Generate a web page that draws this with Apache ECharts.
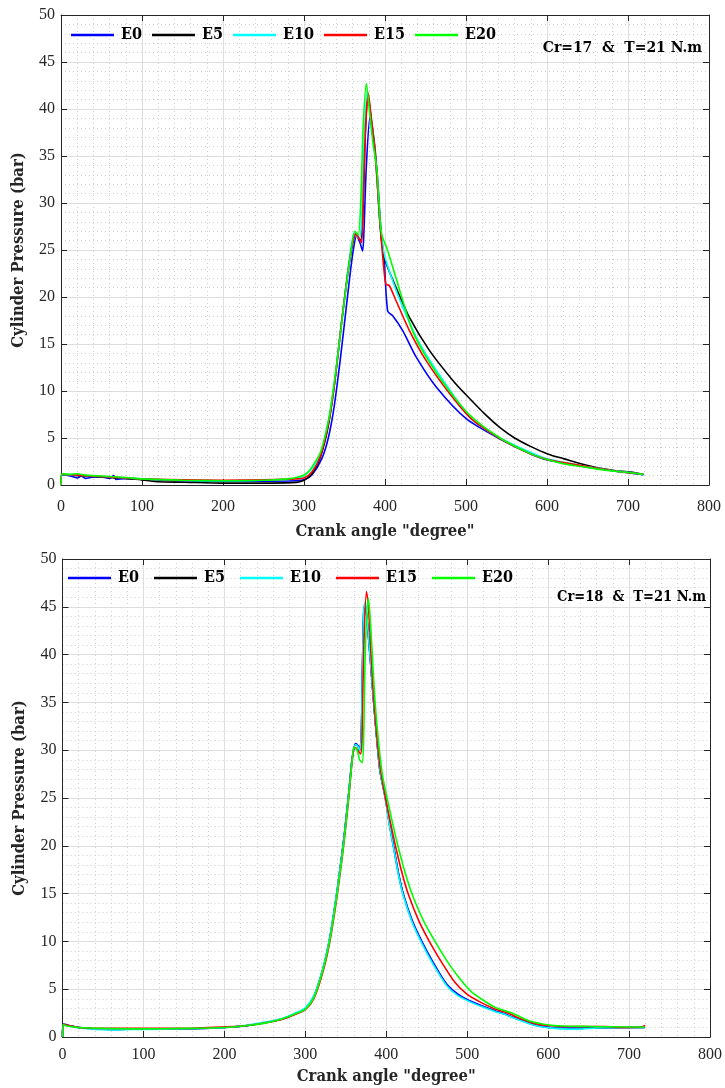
<!DOCTYPE html>
<html><head><meta charset="utf-8">
<script src="https://cdn.jsdelivr.net/npm/echarts/dist/echarts.min.js"></script>
<style>html,body{margin:0;padding:0;background:#fff}#c{width:725px;height:1088px}</style>
</head><body><div id="c"></div><script>
// ---------- DATA ----------
const seriesNames = ['E0', 'E5', 'E10', 'E15', 'E20'];
const xTicks = [0, 100, 200, 300, 400, 500, 600, 700, 800];
const yTicks = [0, 5, 10, 15, 20, 25, 30, 35, 40, 45, 50];
const annot17 = 'Cr=17  &  T=21 N.m';
const annot18 = 'Cr=18  &  T=21 N.m';
const xTitle = 'Crank angle "degree"';
const yTitle = 'Cylinder Pressure (bar)';

// Cr=17 chart  [crank angle, pressure]
const e0_17 = [[0,0],[1,1.1],[10,1.0],[20,0.75],[25,0.95],[30,0.7],[40,0.85],[50,0.85],[60,0.7],[65,1.0],[68,0.6],[80,0.7],[100,0.6],[150,0.45],[200,0.4],[250,0.4],[290,0.45],[300,0.55],[310,1.1],[322,2.8],[330,5],[337,8.2],[345,13.5],[353,19.5],[360,24.5],[365,26.5],[369,25.8],[372.4,24.9],[374,27],[377,34],[381.5,39.2],[385,37],[390,33.5],[395,27],[399,23.9],[403.3,18.5],[409.5,18.0],[422,16.4],[438.6,13.6],[463.5,10.4],[501,7.0],[542,4.9],[580,3.3],[601,2.65],[650,1.9],[700,1.3],[719,1.1]];
const e5_17 = [[0,0],[1,1.1],[20,1.0],[50,0.85],[100,0.55],[120,0.35],[150,0.3],[200,0.2],[250,0.2],[285,0.25],[295,0.35],[302,0.6],[310,1.2],[320,2.9],[330,6.3],[338,11],[346,17],[354,22.5],[360,25.7],[364,26.7],[370,26.0],[373,30],[376,38],[379,41.4],[383,39],[388,35.5],[394,27.5],[399,24.2],[413.7,21.0],[430.3,17.8],[455,14.3],[484,11.1],[500,9.6],[525,7.4],[542,6.1],[560,5.0],[580.3,4.08],[600.8,3.31],[621.3,2.78],[641.8,2.25],[662.3,1.83],[682.8,1.55],[703.3,1.37],[718.9,1.13]];
const e10_17 = [[0,0],[1,1.1],[20,1.05],[50,0.9],[100,0.65],[150,0.5],[200,0.45],[250,0.5],[280,0.6],[295,0.8],[303,1.15],[312,2.0],[320,3.2],[331,7.2],[339,12],[347,17.8],[356,24],[362,26.8],[368,26.2],[371,28],[374,36],[378,41.8],[382,39.5],[388,35],[394,28],[399,24.6],[409.5,21.7],[422,18.9],[443,15],[472,11.1],[507,7.0],[542,5.0],[580,3.45],[601,2.75],[650,1.95],[700,1.35],[719,1.15]];
const e15_17 = [[0,0],[1,1.15],[20,1.05],[50,0.9],[100,0.65],[150,0.55],[200,0.5],[250,0.55],[290,0.65],[300,0.75],[310,1.4],[320,3.0],[330,6.5],[338,11],[346,17],[354,22.5],[360,25.8],[364,26.7],[368,26.2],[371.2,25.8],[373,30],[376,38],[379.4,41.7],[383,39],[388,35],[393,29],[397,24.5],[401,21.4],[405.4,21.2],[413.7,19.6],[430.3,16.4],[451,13.2],[480,9.7],[507,7.0],[542,4.95],[580,3.3],[601,2.7],[650,1.95],[700,1.3],[719,1.15]];
const e20_17 = [[0,0],[1,1.2],[10,1.15],[20,1.2],[30,1.05],[50,0.95],[80,0.8],[100,0.65],[150,0.5],[200,0.45],[250,0.5],[280,0.65],[295,0.9],[304,1.3],[312,2.2],[320,3.4],[326,5.2],[332,7.7],[340,12.6],[348,18.3],[357,24.3],[363,27.0],[367,26.6],[370,30],[373,38],[377,42.7],[380,40.5],[385,36.5],[390,33.5],[394,28.1],[396.3,26.5],[401,25.5],[409.5,23.2],[422,19.6],[434,16.4],[451,13.6],[476,10.4],[505,7.4],[542,5.0],[580,3.31],[601,2.68],[621,2.25],[642,1.97],[662,1.69],[683,1.48],[703,1.30],[719,1.13]];

// Cr=18 chart
const e0_18 = [[0,0],[1,1.35],[20,1.0],[60,0.8],[100,0.85],[150,0.85],[200,1.0],[229,1.2],[270,1.85],[290,2.5],[300,2.95],[311,4.3],[323,7.5],[331,10.7],[340,15.7],[348,21],[354,25.8],[358,29.2],[362,30.7],[365,30.5],[367,30.1],[369,31],[370.5,38],[372.3,44.8],[374,45.2],[377,43],[384,35.5],[392,28],[399,25],[404,22.3],[409,20],[415,17.2],[421,15],[432,12.2],[444,10],[458,7.8],[474,5.6],[488,4.5],[503,3.8],[520,3.2],[535.5,2.7],[545,2.45],[560,1.96],[584.5,1.26],[601,1.01],[617,0.91],[637,0.9],[660,0.98],[700,1.0],[719,1.0]];
const e5_18 = [[0,0],[1,1.3],[20,1.0],[60,0.8],[100,0.85],[150,0.85],[200,1.0],[229,1.2],[270,1.85],[290,2.5],[300,2.95],[311,4.3],[323,7.5],[331,10.7],[340,15.7],[348,21],[354,25.8],[358,29.2],[362,30.6],[365,30.4],[367,30.0],[369,31],[370.5,38],[372.3,44.6],[374,45.0],[377,43],[384,35.5],[392,28],[399,24.9],[404,22.2],[409,19.9],[415,17.1],[421,14.9],[432,12.1],[444,9.9],[458,7.7],[474,5.55],[488,4.45],[503,3.75],[520,3.18],[535.5,2.68],[545,2.42],[560,1.93],[584.5,1.23],[601,1.0],[617,0.9],[637,0.9],[660,0.98],[700,1.0],[719,1.0]];
const e10_18 = [[0,0],[1,1.3],[20,0.95],[60,0.75],[100,0.8],[150,0.85],[200,1.0],[229,1.25],[270,1.9],[290,2.6],[300,3.05],[311,4.4],[323,7.6],[331,10.8],[340,15.8],[348,21],[354,25.8],[358,29.2],[362,30.6],[365,30.4],[367,30.0],[369,31],[370.5,38],[372.3,44.8],[374,45.5],[377,43],[384,35.5],[392,28],[399,24.8],[404,22.1],[409,19.8],[415,17.0],[421,14.8],[432,12.0],[444,9.8],[458,7.6],[474,5.45],[488,4.35],[503,3.7],[520,3.1],[535,2.65],[545,2.4],[560,1.9],[584,1.2],[601,0.95],[617,0.85],[637,0.82],[660,0.95],[700,1.0],[719,1.0]];
const e15_18 = [[0,0],[1,1.3],[20,1.0],[50,0.9],[100,0.9],[150,0.9],[200,1.05],[229,1.2],[270,1.8],[290,2.45],[300,2.85],[311,4.1],[323,7.2],[331,10.3],[340,15.2],[348,20.5],[354,25.3],[358,29],[361,30.3],[364,30.1],[368.2,29.6],[370,31],[372,40],[375.5,46.6],[378,45],[384,36],[392,28.5],[399,25],[405,22.5],[411.9,19.8],[420,17.0],[427.4,14.9],[440,12.2],[453.9,9.9],[470,7.6],[484.5,5.75],[500,4.45],[515,3.7],[535,2.9],[550,2.5],[566,1.9],[584,1.4],[600,1.2],[620,1.1],[670,1.1],[690,1.0],[715,1.05],[720,1.2]];
const e20_18 = [[0,0],[1,1.3],[5,1.15],[20,1.0],[50,0.9],[100,0.85],[150,0.9],[200,1.0],[229,1.2],[250,1.45],[270,1.85],[290,2.5],[300,2.9],[311,4.2],[323,7.4],[331,10.5],[340,15.4],[348,20.6],[354,25.5],[358,29],[360,30.3],[364,30.0],[367,29.0],[370.3,28.7],[372,31],[374,40],[377.6,45.9],[380,44],[386.5,34.7],[394.7,27.7],[401,25.0],[408,22.3],[415,19.8],[424,17.0],[433.5,14.6],[447,12.0],[461,9.9],[477,7.7],[492.7,5.9],[505,4.75],[519,3.9],[535.5,3.05],[556,2.49],[576,1.71],[601,1.26],[617,1.15],[650,1.1],[700,1.05],[719,1.05]];

// ---------- STYLE ----------
const colors = ['#0000ff', '#000000', '#00ffff', '#ff0000', '#00ff00'];
const TICKFONT = 'Liberation Serif';
const BOLDFONT = 'DejaVu Serif Condensed';
const FRAME = '#262626';

const chart = echarts.init(document.getElementById('c'), null, {renderer: 'canvas'});

const grids = [
  {left: 61, top: 15, width: 648, height: 470},
  {left: 62.5, top: 559, width: 653.5, height: 478}
];

function mainX(gi, nameGap, margin) {
  return {
    type: 'value', gridIndex: gi, position: 'bottom', min: xTicks[0], max: xTicks[xTicks.length-1], interval: 100,
    name: xTitle, nameLocation: 'middle', nameGap: nameGap,
    nameTextStyle: {fontFamily: BOLDFONT, fontWeight: 'bold', fontSize: 16.5, color: '#262626'},
    axisLine: {show: true, onZero: false, lineStyle: {color: FRAME, width: 1}},
    axisTick: {show: true, inside: true, length: 6, lineStyle: {color: FRAME}},
    axisLabel: {show: true, margin: margin, fontFamily: TICKFONT, fontSize: 16, color: '#262626'},
    splitLine: {show: true, lineStyle: {color: '#dedede', width: 1}},
    minorTick: {show: false, splitNumber: 5},
    minorSplitLine: {show: true, lineStyle: {color: '#cfcfcf', type: [1, 3], width: 1}}
  };
}
function secX(gi) {
  return {
    type: 'value', gridIndex: gi, position: 'top', min: 0, max: 800, interval: 100,
    axisLine: {show: true, onZero: false, lineStyle: {color: FRAME, width: 1}},
    axisTick: {show: true, inside: true, length: 6, lineStyle: {color: FRAME}},
    axisLabel: {show: false}, splitLine: {show: false}
  };
}
function mainY(gi) {
  return {
    type: 'value', gridIndex: gi, position: 'left', min: yTicks[0], max: yTicks[yTicks.length-1], interval: 5,
    name: yTitle, nameLocation: 'middle', nameGap: 34, nameRotate: 90,
    nameTextStyle: {fontFamily: BOLDFONT, fontWeight: 'bold', fontSize: 16.5, color: '#262626'},
    axisLine: {show: true, onZero: false, lineStyle: {color: FRAME, width: 1}},
    axisTick: {show: true, inside: true, length: 6, lineStyle: {color: FRAME}},
    axisLabel: {show: true, margin: 6, fontFamily: TICKFONT, fontSize: 16, color: '#262626'},
    splitLine: {show: true, lineStyle: {color: '#dedede', width: 1}},
    minorTick: {show: false, splitNumber: 5},
    minorSplitLine: {show: true, lineStyle: {color: '#cfcfcf', type: [1, 3], width: 1}}
  };
}
function secY(gi) {
  return {
    type: 'value', gridIndex: gi, position: 'right', min: 0, max: 50, interval: 5,
    axisLine: {show: true, onZero: false, lineStyle: {color: FRAME, width: 1}},
    axisTick: {show: true, inside: true, length: 6, lineStyle: {color: FRAME}},
    axisLabel: {show: false}, splitLine: {show: false}
  };
}

const data17 = [e0_17, e5_17, e10_17, e15_17, e20_17];
const data18 = [e0_18, e5_18, e10_18, e15_18, e20_18];
const series = [];
seriesNames.forEach((n, i) => {
  series.push({name: n, type: 'line', xAxisIndex: 0, yAxisIndex: 0, data: data17[i], symbol: 'none', smooth: 0.25,
    lineStyle: {color: colors[i], width: 1.6}, itemStyle: {color: colors[i]}, z: 2 + i, animation: false});
});
seriesNames.forEach((n, i) => {
  series.push({name: n, type: 'line', xAxisIndex: 2, yAxisIndex: 2, data: data18[i], symbol: 'none', smooth: 0.25,
    lineStyle: {color: colors[i], width: 1.6}, itemStyle: {color: colors[i]}, z: i === 1 ? 1 : 2 + i, animation: false});
});

function legend(left, top, gap) {
  return {
    data: seriesNames, left: left, top: top, orient: 'horizontal', icon: 'rect', itemWidth: 43, itemHeight: 2.5, itemGap: gap,
    padding: 0, selectedMode: false,
    textStyle: {fontFamily: BOLDFONT, fontWeight: 'bold', fontSize: 16, color: '#000', padding: [0, 0, 0, 2]}
  };
}

chart.setOption({
  backgroundColor: '#ffffff',
  animation: false,
  grid: grids,
  xAxis: [mainX(0, 38, 14), secX(0), mainX(1, 31, 10), secX(1)],
  yAxis: [mainY(0), secY(0), mainY(1), secY(1)],
  legend: [legend(71, 27, 10), legend(68, 570, 15)],
  title: [
    {text: annot17, right: 18, top: 35, textStyle: {fontFamily: BOLDFONT, fontWeight: 'bold', fontSize: 15.5, color: '#000'}},
    {text: annot18, right: 14, top: 585, textStyle: {fontFamily: BOLDFONT, fontWeight: 'bold', fontSize: 14.5, color: '#000'}}
  ],
  series: series
});
</script></body></html>
